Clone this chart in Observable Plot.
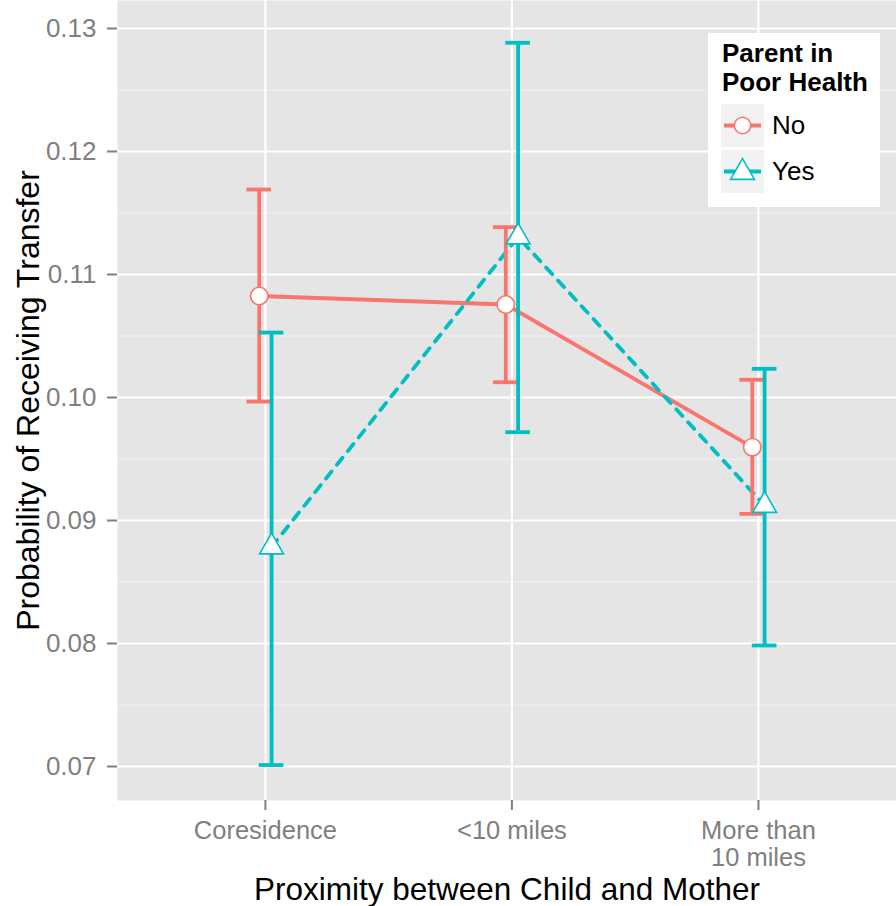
<!DOCTYPE html>
<html>
<head>
<meta charset="utf-8">
<script src="https://cdn.jsdelivr.net/npm/d3@7"></script>
<script src="https://cdn.jsdelivr.net/npm/@observablehq/plot@0.6"></script>
<style>
  html, body { margin: 0; padding: 0; background: white; }
  #wrap { position: relative; width: 896px; height: 906px; font-family: "Liberation Sans", Arial, Helvetica, sans-serif; }
  #legend { position: absolute; left: 708px; top: 33px; width: 172px; height: 174px; background: white; }
  #legend .title { position: absolute; left: 14px; top: 6px; font-weight: bold; font-size: 26px; line-height: 29px; color: #000; white-space: nowrap; }
  #legend .key { position: absolute; left: 13px; width: 43px; height: 43px; background: #F2F2F2; }
  #legend .lab { position: absolute; left: 64px; font-size: 26px; line-height: 30px; color: #000; }
</style>
</head>
<body>
<div id="wrap"></div>
<script>
// ---- data ----
const categories = ["Coresidence", "<10 miles", "More than\n10 miles"];
const healthLevels = ["No", "Yes"];
const estNo  = [0.10825, 0.10756, 0.09596];
const loNo   = [0.09967, 0.10124, 0.09054];
const hiNo   = [0.11691, 0.11385, 0.10144];
const estYes = [0.08785, 0.11305, 0.09122];
const loYes  = [0.07012, 0.09718, 0.07984];
const hiYes  = [0.10528, 0.12884, 0.10233];
const yTicks = [0.07, 0.08, 0.09, 0.10, 0.11, 0.12, 0.13];
const yMinor = [0.075, 0.085, 0.095, 0.105, 0.115, 0.125];
const xTitle = "Proximity between Child and Mother";
const yTitle = "Probability of Receiving Transfer";
const legendTitle = ["Parent in", "Poor Health"];

const colors = {No: "#F8766D", Yes: "#00BFC4"};
const dodge = {No: -0.025, Yes: 0.025};

const rows = [];
categories.forEach((c, i) => {
  rows.push({cat: c, idx: i + 1, health: "No", est: estNo[i], lo: loNo[i], hi: hiNo[i]});
  rows.push({cat: c, idx: i + 1, health: "Yes", est: estYes[i], lo: loYes[i], hi: hiYes[i]});
});
const xp = d => d.idx + dodge[d.health];
const noRows = rows.filter(d => d.health === "No");
const yesRows = rows.filter(d => d.health === "Yes");

const font = '"Liberation Sans", Arial, Helvetica, sans-serif';

const chart = Plot.plot({
  width: 896,
  height: 906,
  marginLeft: 117,
  marginRight: 0,
  marginTop: 0,
  marginBottom: 106,
  style: {fontFamily: font, background: "white", overflow: "visible"},
  x: {type: "linear", domain: [0.4, 3.56], axis: null},
  y: {domain: [0.067236, 0.132276], axis: null},
  marks: [
    Plot.frame({fill: "#E5E5E5", stroke: null}),
    Plot.ruleY(yMinor, {stroke: "#F2F2F2", strokeWidth: 1.2}),
    Plot.ruleY(yTicks, {stroke: "white", strokeWidth: 2.2}),
    Plot.ruleX(categories.map((c, i) => i + 1), {stroke: "white", strokeWidth: 2.2}),
    Plot.axisY({ticks: yTicks, tickFormat: d3.format(".2f"), tickSize: 10, tickPadding: 11,
      fontSize: 26, color: "#7F7F7F", strokeWidth: 2, label: null}),
    Plot.axisX({ticks: [1, 2, 3], tickFormat: i => categories[i - 1], tickSize: 10, tickPadding: 9,
      fontSize: 25.5, lineHeight: 1.06, color: "#7F7F7F", strokeWidth: 2, label: null}),
    // lines
    Plot.line(noRows, {x: xp, y: "est", stroke: colors.No, strokeWidth: 3.8}),
    Plot.line(yesRows, {x: xp, y: "est", stroke: colors.Yes, strokeWidth: 3.8, strokeDasharray: "9,8.5"}),
    // error bars
    ...[noRows, yesRows].flatMap(rs => [
      Plot.ruleX(rs, {x: xp, y1: "lo", y2: "hi", stroke: d => colors[d.health], strokeWidth: 3.8}),
      Plot.ruleY(rs, {y: "lo", x1: d => xp(d) - 0.05, x2: d => xp(d) + 0.05, stroke: d => colors[d.health], strokeWidth: 3.8}),
      Plot.ruleY(rs, {y: "hi", x1: d => xp(d) - 0.05, x2: d => xp(d) + 0.05, stroke: d => colors[d.health], strokeWidth: 3.8})
    ]),
    // points
    Plot.dot(noRows, {x: xp, y: "est", symbol: "circle", r: 8.7, fill: "white", stroke: colors.No, strokeWidth: 1.6}),
    Plot.dot(yesRows, {x: xp, y: "est", symbol: "triangle", r: 8.9, fill: "white", stroke: colors.Yes, strokeWidth: 1.6}),
    // axis titles
    Plot.text([xTitle], {frameAnchor: "bottom", dy: 89, fontSize: 31.5, fill: "black", lineAnchor: "middle", textAnchor: "middle"}),
    Plot.text([yTitle], {frameAnchor: "left", dx: -89, rotate: -90, fontSize: 32, fill: "black", lineAnchor: "middle", textAnchor: "middle"})
  ]
});

const wrap = document.getElementById("wrap");
wrap.appendChild(chart);

// legend
const lg = document.createElement("div");
lg.id = "legend";
const t = document.createElement("div");
t.className = "title";
t.innerHTML = legendTitle.join("<br>");
lg.appendChild(t);
healthLevels.forEach((h, i) => {
  const top = 71 + i * 46;
  const key = document.createElement("div");
  key.className = "key";
  key.style.top = top + "px";
  const sym = h === "No"
    ? `<circle cx="21.5" cy="21.5" r="8.2" fill="white" stroke="${colors.No}" stroke-width="1.6"/>`
    : `<path d="${d3.symbol(d3.symbolTriangle, Math.PI * 8.9 * 8.9)()}" transform="translate(21.5,22.5)" fill="white" stroke="${colors.Yes}" stroke-width="1.6"/>`;
  key.innerHTML = `<svg width="43" height="43"><line x1="3" x2="40" y1="21.5" y2="21.5" stroke="${colors[h]}" stroke-width="3.8"/>${sym}</svg>`;
  lg.appendChild(key);
  const lab = document.createElement("div");
  lab.className = "lab";
  lab.style.top = (top + 6) + "px";
  lab.textContent = h;
  lg.appendChild(lab);
});
wrap.appendChild(lg);
</script>
</body>
</html>
